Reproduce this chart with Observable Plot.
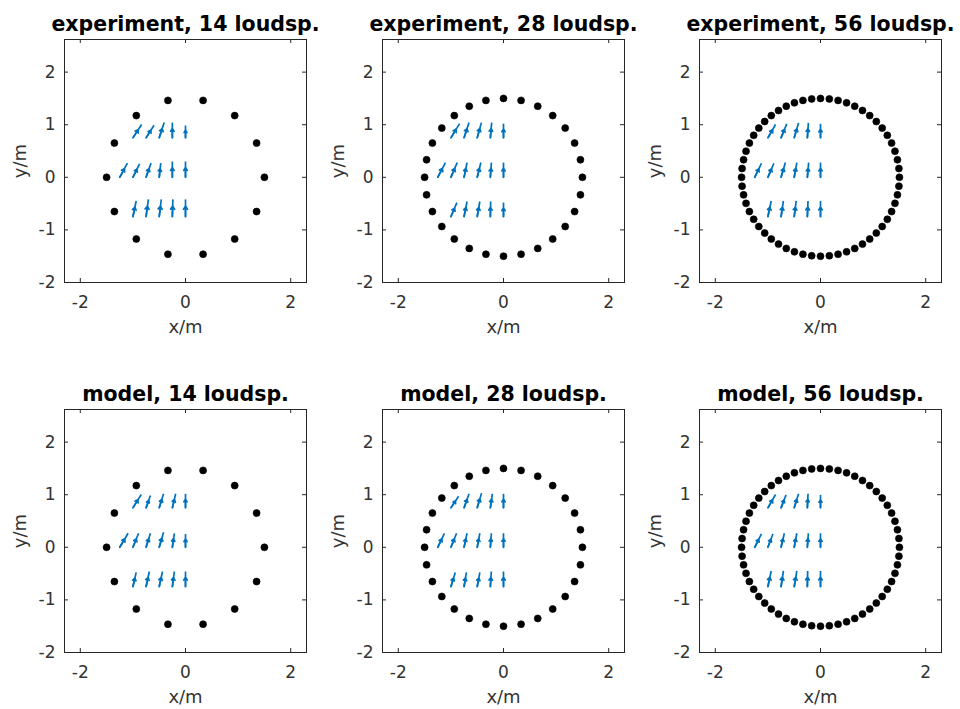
<!DOCTYPE html>
<html>
<head>
<meta charset="utf-8">
<script src="https://cdn.jsdelivr.net/npm/d3@7"></script>
<script src="https://cdn.jsdelivr.net/npm/@observablehq/plot@0.6"></script>
<style>
  html, body { margin: 0; padding: 0; background: #fff; overflow: hidden; }
  #root { position: relative; width: 960px; height: 709px; }
  .cell { position: absolute; }
  .cell svg { display: block; overflow: visible; }
</style>
</head>
<body>
<div id="root"></div>
<script>
// ---------- data ----------
const titles = [
  "experiment, 14 loudsp.", "experiment, 28 loudsp.", "experiment, 56 loudsp.",
  "model, 14 loudsp.", "model, 28 loudsp.", "model, 56 loudsp."
];
const speakerRadius = 1.5;
const angles14 = [0, 25.71, 51.43, 77.14, 102.86, 128.57, 154.29, 180, 205.71, 231.43, 257.14, 282.86, 308.57, 334.29];
const angles28 = [0, 12.86, 25.71, 38.57, 51.43, 64.29, 77.14, 90, 102.86, 115.71, 128.57, 141.43, 154.29, 167.14,
  180, 192.86, 205.71, 218.57, 231.43, 244.29, 257.14, 270, 282.86, 295.71, 308.57, 321.43, 334.29, 347.14];
const angles56 = [0, 6.43, 12.86, 19.29, 25.71, 32.14, 38.57, 45, 51.43, 57.86, 64.29, 70.71, 77.14, 83.57,
  90, 96.43, 102.86, 109.29, 115.71, 122.14, 128.57, 135, 141.43, 147.86, 154.29, 160.71, 167.14, 173.57,
  180, 186.43, 192.86, 199.29, 205.71, 212.14, 218.57, 225, 231.43, 237.86, 244.29, 250.71, 257.14, 263.57,
  270, 276.43, 282.86, 289.29, 295.71, 302.14, 308.57, 315, 321.43, 327.86, 334.29, 340.71, 347.14, 353.57];

// field sample points (arrow bases)
const arrowX = [-1, -0.75, -0.5, -0.25, 0,  -1.25, -1, -0.75, -0.5, -0.25, 0,  -1, -0.75, -0.5, -0.25, 0];
const arrowY = [0.75, 0.75, 0.75, 0.75, 0.75,  0, 0, 0, 0, 0, 0,  -0.75, -0.75, -0.75, -0.75, -0.75];

// arrow components per panel
const uExp14 = [0.165, 0.152, 0.095, 0, 0,  0.146, 0.127, 0.095, 0.03, 0, 0,  0.063, 0.045, 0.04, 0.01, 0];
const vExp14 = [0.254, 0.24, 0.29, 0.29, 0.235,  0.27, 0.254, 0.27, 0.27, 0.3, 0.3,  0.3, 0.33, 0.33, 0.33, 0.33];
const uExp28 = [0.165, 0.095, 0.08, 0.025, 0,  0.146, 0.12, 0.057, 0.07, 0.02, 0,  0.114, 0.057, 0.05, 0.006, 0];
const vExp28 = [0.27, 0.29, 0.29, 0.29, 0.27,  0.28, 0.28, 0.28, 0.28, 0.28, 0.28,  0.27, 0.29, 0.29, 0.29, 0.27];
const uExp56 = [0.146, 0.108, 0.083, 0.02, 0,  0.127, 0.114, 0.083, 0.05, 0.025, 0,  0.063, 0.045, 0.038, 0.013, 0];
const vExp56 = [0.254, 0.267, 0.285, 0.285, 0.267,  0.267, 0.267, 0.28, 0.28, 0.28, 0.28,  0.3, 0.3, 0.3, 0.3, 0.3];
const uMod14 = [0.159, 0.083, 0.083, 0.063, 0,  0.159, 0.108, 0.083, 0.083, 0.038, 0,  0.063, 0.063, 0.063, 0.038, 0];
const vMod14 = [0.254, 0.235, 0.267, 0.267, 0.267,  0.267, 0.267, 0.267, 0.285, 0.267, 0.254,  0.273, 0.29, 0.29, 0.29, 0.29];
const uMod28 = [0.146, 0.095, 0.083, 0.038, 0,  0.127, 0.108, 0.057, 0.05, 0.019, 0,  0.083, 0.045, 0.05, 0.019, 0];
const vMod28 = [0.22, 0.267, 0.28, 0.267, 0.267,  0.267, 0.267, 0.267, 0.267, 0.267, 0.267,  0.273, 0.273, 0.273, 0.29, 0.29];
const uMod56 = [0.146, 0.095, 0.083, 0.013, 0,  0.127, 0.095, 0.063, 0.05, 0.019, 0,  0.063, 0.045, 0.05, 0.006, 0];
const vMod56 = [0.254, 0.247, 0.267, 0.267, 0.247,  0.254, 0.254, 0.267, 0.267, 0.267, 0.267,  0.3, 0.3, 0.3, 0.3, 0.3];

const xTicks = [-2, 0, 2];
const yTicks = [-2, -1, 0, 1, 2];
const xLabel = "x/m";
const yLabel = "y/m";

// ---------- build ----------
const panels = [
  {title: titles[0], angles: angles14, u: uExp14, v: vExp14},
  {title: titles[1], angles: angles28, u: uExp28, v: vExp28},
  {title: titles[2], angles: angles56, u: uExp56, v: vExp56},
  {title: titles[3], angles: angles14, u: uMod14, v: vMod14},
  {title: titles[4], angles: angles28, u: uMod28, v: vMod28},
  {title: titles[5], angles: angles56, u: uMod56, v: vMod56}
];

const colLeft = [0, 320, 640];
const colMarginLeft = [64, 62, 59];
const rowTop = [0, 370];
const rowHeight = [370, 339];
const innerW = 242, innerH = 243;
const axisColor = "#262626";
const font = "DejaVu Sans";
const blue = "#0072BD";
const fmt = d => (d < 0 ? "-" : "") + Math.abs(d);

const root = document.getElementById("root");

panels.forEach((p, i) => {
  const col = i % 3, row = Math.floor(i / 3);
  const speakers = p.angles.map(a => ({
    x: speakerRadius * Math.cos(a * Math.PI / 180),
    y: speakerRadius * Math.sin(a * Math.PI / 180)
  }));
  const arrows = arrowX.map((x, k) => ({
    x1: x, y1: arrowY[k],
    x2: x + p.u[k], y2: arrowY[k] + p.v[k],
    xm: x + 0.6 * p.u[k], ym: arrowY[k] + 0.6 * p.v[k]
  }));
  const ml = colMarginLeft[col];
  const W = 320;
  const H = rowHeight[row];
  const chart = Plot.plot({
    width: W,
    height: H,
    marginLeft: ml,
    marginRight: W - ml - innerW,
    marginTop: 39,
    marginBottom: H - 39 - innerH,
    x: {domain: [-2.3, 2.3]},
    y: {domain: [-2, 2.62]},
    style: {fontFamily: font, fontSize: "17px", color: axisColor, background: "white", overflow: "visible"},
    marks: [
      Plot.axisX(xTicks, {tickSize: 0, tickPadding: 13, label: null, fontSize: 17, fill: "#333", tickFormat: fmt}),
      Plot.axisY(yTicks, {tickSize: 0, tickPadding: 9, label: null, fontSize: 17, fill: "#333", tickFormat: fmt}),
      // inward tick marks on all four sides
      Plot.ruleX(xTicks, {insetTop: innerH - 4, stroke: axisColor}),
      Plot.ruleX(xTicks, {insetBottom: innerH - 4, stroke: axisColor}),
      Plot.ruleY(yTicks, {insetRight: innerW - 4, stroke: axisColor}),
      Plot.ruleY(yTicks, {insetLeft: innerW - 4, stroke: axisColor}),
      Plot.frame({stroke: axisColor, strokeWidth: 1}),
      Plot.link(arrows, {x1: "x1", y1: "y1", x2: "x2", y2: "y2", stroke: blue, strokeWidth: 1.7}),
      Plot.arrow(arrows, {x1: "x1", y1: "y1", x2: "xm", y2: "ym", stroke: blue, strokeWidth: 1.7,
        headLength: 5, headAngle: 70}),
      Plot.dot(speakers, {x: "x", y: "y", r: 3.5, fill: "black", stroke: "black", strokeWidth: 0.6}),
      Plot.text([p.title], {frameAnchor: "top", lineAnchor: "middle", dy: -15,
        fontSize: 20.5, fontWeight: "bold", fill: "black"}),
      Plot.text([xLabel], {frameAnchor: "bottom", lineAnchor: "middle", dy: 45,
        fontSize: 18, fill: "#333"}),
      Plot.text([yLabel], {frameAnchor: "left", lineAnchor: "middle", textAnchor: "middle", dx: -44, rotate: -90,
        fontSize: 18, fill: "#333"})
    ]
  });
  const cell = document.createElement("div");
  cell.className = "cell";
  cell.style.left = colLeft[col] + "px";
  cell.style.top = rowTop[row] + "px";
  cell.appendChild(chart);
  root.appendChild(cell);
});
</script>
</body>
</html>
